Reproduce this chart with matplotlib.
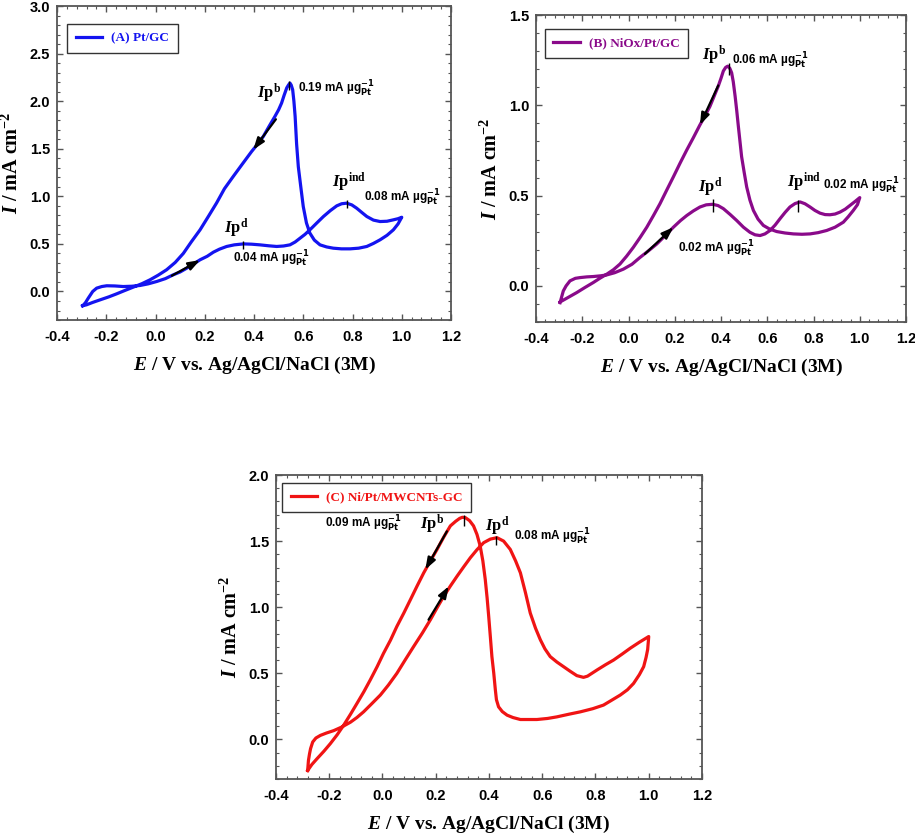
import matplotlib
matplotlib.use('Agg')
import matplotlib.pyplot as plt
from matplotlib.ticker import MultipleLocator, FormatStrFormatter

# ---- (A) Pt/GC : forward scan then backward scan
a_fwd_E = [-0.296, -0.285, -0.273, -0.255, -0.239, -0.218, -0.198, -0.165, -0.131, -0.097, -0.063, -0.03,
           0.005, 0.04, 0.072, 0.10, 0.127, 0.155, 0.181, 0.21, 0.235, 0.26, 0.289, 0.32, 0.357, 0.39,
           0.424, 0.46, 0.492, 0.52, 0.546, 0.567, 0.587, 0.607, 0.627, 0.655, 0.682, 0.71, 0.736, 0.756,
           0.776, 0.797, 0.817, 0.838, 0.858, 0.885, 0.912, 0.94, 0.966, 0.985, 1.0]
a_fwd_I = [-0.15, -0.12, -0.07, 0.0, 0.035, 0.052, 0.06, 0.058, 0.052, 0.055, 0.063, 0.08,
           0.105, 0.135, 0.175, 0.205, 0.245, 0.29, 0.333, 0.37, 0.413, 0.445, 0.473, 0.49, 0.50, 0.497,
           0.49, 0.48, 0.473, 0.478, 0.49, 0.52, 0.56, 0.60, 0.648, 0.72, 0.788, 0.85, 0.90, 0.922,
           0.928, 0.91, 0.875, 0.83, 0.788, 0.75, 0.735, 0.738, 0.753, 0.765, 0.78]
a_bwd_E = [1.0, 0.985, 0.966, 0.94, 0.912, 0.885, 0.858, 0.825, 0.79, 0.755, 0.722, 0.695, 0.668, 0.645,
           0.627, 0.613, 0.60, 0.59, 0.58, 0.573, 0.567, 0.562, 0.557, 0.551, 0.546, 0.54, 0.533, 0.522,
           0.512, 0.50, 0.485, 0.46, 0.438, 0.415, 0.39, 0.35, 0.316, 0.28, 0.248, 0.215, 0.181, 0.145,
           0.113, 0.08, 0.045, 0.01, -0.022, -0.055, -0.09, -0.125, -0.158, -0.19, -0.225, -0.255, -0.28, -0.296]
a_bwd_I = [0.78, 0.71, 0.648, 0.59, 0.543, 0.505, 0.473, 0.455, 0.448, 0.448, 0.455, 0.468, 0.49, 0.54,
           0.613, 0.72, 0.893, 1.10, 1.31, 1.55, 1.84, 2.0, 2.12, 2.17, 2.19, 2.17, 2.14, 2.06,
           1.98, 1.91, 1.84, 1.73, 1.63, 1.55, 1.47, 1.33, 1.21, 1.08, 0.93, 0.79, 0.648, 0.52,
           0.40, 0.305, 0.228, 0.17, 0.123, 0.082, 0.046, 0.01, -0.025, -0.057, -0.088, -0.115, -0.14, -0.15]

# ---- (B) NiOx/Pt/GC
b_fwd_E = [-0.296, -0.29, -0.282, -0.27, -0.253, -0.23, -0.21, -0.18, -0.152, -0.12, -0.094, -0.06, -0.022,
           0.015, 0.05, 0.085, 0.122, 0.16, 0.194, 0.225, 0.252, 0.28, 0.309, 0.336, 0.364, 0.387, 0.41,
           0.44, 0.468, 0.497, 0.525, 0.547, 0.569, 0.59, 0.612, 0.634, 0.655, 0.677, 0.698, 0.72, 0.742,
           0.763, 0.785, 0.806, 0.828, 0.85, 0.871, 0.893, 0.915, 0.937, 0.958, 0.98, 1.0]
b_fwd_I = [-0.093, -0.065, -0.028, 0.0, 0.028, 0.042, 0.046, 0.05, 0.052, 0.056, 0.061, 0.073, 0.093,
           0.12, 0.158, 0.193, 0.232, 0.28, 0.325, 0.362, 0.39, 0.415, 0.437, 0.449, 0.452, 0.445, 0.428,
           0.395, 0.362, 0.325, 0.297, 0.283, 0.279, 0.288, 0.307, 0.337, 0.372, 0.407, 0.437, 0.456, 0.465,
           0.455, 0.437, 0.418, 0.403, 0.395, 0.394, 0.398, 0.409, 0.425, 0.446, 0.468, 0.489]
b_bwd_E = [1.0, 0.99, 0.972, 0.95, 0.929, 0.893, 0.857, 0.82, 0.785, 0.75, 0.713, 0.677, 0.641, 0.61,
           0.583, 0.56, 0.54, 0.525, 0.511, 0.5, 0.489, 0.482, 0.475, 0.468, 0.461, 0.453, 0.446, 0.438,
           0.429, 0.42, 0.41, 0.4, 0.388, 0.37, 0.352, 0.33, 0.309, 0.28, 0.252, 0.223, 0.194, 0.165,
           0.136, 0.108, 0.079, 0.05, 0.021, -0.008, -0.037, -0.065, -0.094, -0.123, -0.152, -0.19,
           -0.224, -0.26, -0.296]
b_bwd_I = [0.489, 0.45, 0.418, 0.383, 0.353, 0.325, 0.307, 0.295, 0.288, 0.286, 0.288, 0.293, 0.301, 0.315,
           0.335, 0.37, 0.418, 0.475, 0.548, 0.63, 0.716, 0.80, 0.883, 0.97, 1.05, 1.13, 1.18, 1.205,
           1.217, 1.21, 1.19, 1.15, 1.106, 1.05, 0.994, 0.94, 0.892, 0.82, 0.753, 0.68, 0.604, 0.53,
           0.455, 0.39, 0.325, 0.268, 0.214, 0.165, 0.121, 0.09, 0.065, 0.043, 0.019, -0.01,
           -0.037, -0.063, -0.089]

# ---- (C) Ni/Pt/MWCNTs-GC
c_fwd_E = [-0.281, -0.278, -0.274, -0.27, -0.262, -0.25, -0.233, -0.21, -0.183, -0.152, -0.12, -0.096,
           -0.071, -0.04, -0.008, 0.022, 0.054, 0.085, 0.117, 0.15, 0.18, 0.205, 0.23, 0.255, 0.28,
           0.305, 0.33, 0.355, 0.38, 0.405, 0.43, 0.455, 0.48, 0.50, 0.518, 0.537, 0.555, 0.575, 0.593,
           0.61, 0.63, 0.655, 0.68, 0.705, 0.73, 0.755, 0.77, 0.806, 0.838, 0.868, 0.9, 0.931, 0.965, 1.0]
c_fwd_I = [-0.236, -0.16, -0.11, -0.07, -0.02, 0.01, 0.030, 0.048, 0.066, 0.094, 0.13, 0.165,
           0.208, 0.27, 0.335, 0.41, 0.499, 0.60, 0.702, 0.805, 0.905, 0.995, 1.082, 1.16, 1.234,
           1.305, 1.374, 1.435, 1.488, 1.515, 1.526, 1.50, 1.437, 1.35, 1.26, 1.11, 0.956, 0.84, 0.753,
           0.685, 0.626, 0.585, 0.55, 0.515, 0.482, 0.469, 0.478, 0.525, 0.565, 0.60, 0.645, 0.69, 0.735, 0.778]
c_bwd_E = [1.0, 0.996, 0.99, 0.981, 0.965, 0.943, 0.92, 0.893, 0.86, 0.83, 0.79, 0.743, 0.7, 0.655,
           0.62, 0.58, 0.545, 0.518, 0.49, 0.468, 0.45, 0.436, 0.428, 0.424, 0.418, 0.411, 0.405, 0.399,
           0.393, 0.386, 0.377, 0.367, 0.355, 0.342, 0.327, 0.311, 0.3, 0.29, 0.275, 0.255, 0.23, 0.205,
           0.18, 0.155, 0.13, 0.105, 0.08, 0.054, 0.03, 0.004, -0.02, -0.046, -0.07, -0.096, -0.12,
           -0.146, -0.17, -0.196, -0.22, -0.246, -0.265, -0.281]
c_bwd_I = [0.778, 0.68, 0.62, 0.55, 0.49, 0.423, 0.375, 0.335, 0.295, 0.259, 0.232, 0.208, 0.19, 0.17,
           0.158, 0.15, 0.15, 0.15, 0.165, 0.183, 0.21, 0.246, 0.30, 0.373, 0.50, 0.626, 0.78, 0.93,
           1.07, 1.21, 1.35, 1.463, 1.55, 1.615, 1.655, 1.678, 1.68, 1.672, 1.65, 1.615, 1.53, 1.437,
           1.35, 1.26, 1.16, 1.057, 0.955, 0.854, 0.75, 0.651, 0.55, 0.449, 0.36, 0.271, 0.19,
           0.106, 0.035, -0.033, -0.09, -0.147, -0.19, -0.236]

labels = ['(A) Pt/GC', '(B) NiOx/Pt/GC', '(C) Ni/Pt/MWCNTs-GC']
colors = ['#1414f0', '#8a0a8a', '#f01414']
ylims = [(-0.3, 3.0), (-0.2, 1.5), (-0.3, 2.0)]

# arrows along the scan: (start, end)
a_arrows = [((0.066, 0.165), (0.181, 0.33)), ((0.489, 1.81), (0.397, 1.49))]
b_arrows = [((0.071, 0.177), (0.194, 0.325)), ((0.388, 1.11), (0.309, 0.892))]
c_arrows = [((0.173, 0.905), (0.249, 1.158)), ((0.242, 1.574), (0.161, 1.285))]

# peak markers: (E, I low, I high)
a_peaks = [(0.543, 2.12, 2.21), (0.354, 0.45, 0.53), (0.776, 0.88, 0.96)]
b_peaks = [(0.436, 1.17, 1.236), (0.364, 0.41, 0.48), (0.734, 0.41, 0.478)]
c_peaks = [(0.305, 1.615, 1.696), (0.426, 1.468, 1.539)]

# peak labels (text, E, I)
a_ip = [('b', 0.411, 2.08), ('d', 0.278, 0.665), ('ind', 0.715, 1.15)]
a_val = [('0.19', 0.58, 2.125), ('0.04', 0.316, 0.34), ('0.08', 0.845, 0.985)]
b_ip = [('b', 0.316, 1.277), ('d', 0.302, 0.545), ('ind', 0.684, 0.571)]
b_val = [('0.06', 0.446, 1.245), ('0.02', 0.215, 0.204), ('0.02', 0.84, 0.555)]
c_ip = [('b', 0.142, 1.627), ('d', 0.386, 1.61)]
c_val = [('0.09', -0.215, 1.627), ('0.08', 0.493, 1.531)]

plt.rcParams['mathtext.fontset'] = 'custom'
plt.rcParams['mathtext.rm'] = 'Liberation Serif:bold'
plt.rcParams['mathtext.it'] = 'Liberation Serif:italic:bold'
plt.rcParams['mathtext.bf'] = 'Liberation Serif:bold'
plt.rcParams['axes.unicode_minus'] = False

fig = plt.figure(figsize=(9.15, 8.36), dpi=100)
axA = fig.add_axes([0.0623, 0.6172, 0.4306, 0.3756])
axB = fig.add_axes([0.5858, 0.6148, 0.4044, 0.3672])
axC = fig.add_axes([0.3016, 0.0682, 0.4656, 0.3636])
axes = [axA, axB, axC]
curves = [(a_fwd_E + a_bwd_E, a_fwd_I + a_bwd_I),
          (b_fwd_E + b_bwd_E, b_fwd_I + b_bwd_I),
          (c_fwd_E + c_bwd_E, c_fwd_I + c_bwd_I)]
arrows = [a_arrows, b_arrows, c_arrows]
peaks = [a_peaks, b_peaks, c_peaks]
ips = [a_ip, b_ip, c_ip]
vals = [a_val, b_val, c_val]
leg_anchor = [(0.026, 0.944), (0.024, 0.956), (0.014, 0.975)]

for i, ax in enumerate(axes):
    E, I = curves[i]
    ax.plot(E, I, color=colors[i], lw=2.3, label=labels[i], solid_joinstyle='round')
    for (x0, y0), (x1, y1) in arrows[i]:
        ax.annotate('', xy=(x1, y1), xytext=(x0, y0),
                    arrowprops=dict(arrowstyle='-|>,head_length=0.7,head_width=0.25',
                                    color='black', lw=1.6, shrinkA=0, shrinkB=0))
    for x, y0, y1 in peaks[i]:
        ax.vlines(x, y0, y1, color='black', lw=1.0)
    for sup, x, y in ips[i]:
        ax.text(x, y, r'$\mathit{I}\mathrm{p}^{\mathrm{%s}}$' % sup, fontsize=12, va='center', ha='left')
    for v, x, y in vals[i]:
        ax.text(x, y, v + ' mA \u00b5g' + r'$_{\mathbf{Pt}}^{\mathbf{-1}}$', fontsize=8.5,
                fontfamily='Liberation Sans', fontweight='bold', va='center', ha='left',
                math_fontfamily='dejavusans')

    ax.set_xlim(-0.4, 1.2)
    ax.set_ylim(*ylims[i])
    ax.xaxis.set_major_locator(MultipleLocator(0.2))
    ax.xaxis.set_minor_locator(MultipleLocator(0.04))
    ax.yaxis.set_major_locator(MultipleLocator(0.5))
    ax.yaxis.set_minor_locator(MultipleLocator(0.1))
    ax.xaxis.set_major_formatter(FormatStrFormatter('%.1f'))
    ax.yaxis.set_major_formatter(FormatStrFormatter('%.1f'))
    ax.tick_params(which='both', direction='in', top=True, right=True, color='#555555')
    ax.tick_params(which='major', length=4, width=1)
    ax.tick_params(which='minor', length=2, width=0.8)
    ax.tick_params(axis='x', pad=7)
    ax.tick_params(axis='y', pad=5)
    for lab in ax.get_xticklabels() + ax.get_yticklabels():
        lab.set_fontfamily('Liberation Sans')
        lab.set_fontweight('bold')
        lab.set_fontsize(10.5)
    for s in ax.spines.values():
        s.set_color('#555555')
        s.set_linewidth(1.3)

    ax.set_xlabel(r'$\mathit{E}$ / V vs. Ag/AgCl/NaCl (3M)', fontfamily='Liberation Serif',
                  fontweight='bold', fontsize=14, labelpad=8)
    ax.set_ylabel(r'$\mathit{I}$ / mA cm$^{\mathrm{-2}}$', fontfamily='Liberation Serif',
                  fontweight='bold', fontsize=14.5, labelpad=5)

    leg = ax.legend(loc='upper left', bbox_to_anchor=leg_anchor[i], borderaxespad=0,
                    fancybox=False, framealpha=1, edgecolor='#333333', labelcolor='linecolor',
                    handlelength=2.0, handletextpad=0.7, borderpad=0.65,
                    prop={'family': 'Liberation Serif', 'weight': 'bold', 'size': 9.5})
    leg.get_frame().set_linewidth(1.0)

fig.savefig('out.png', dpi=100)
